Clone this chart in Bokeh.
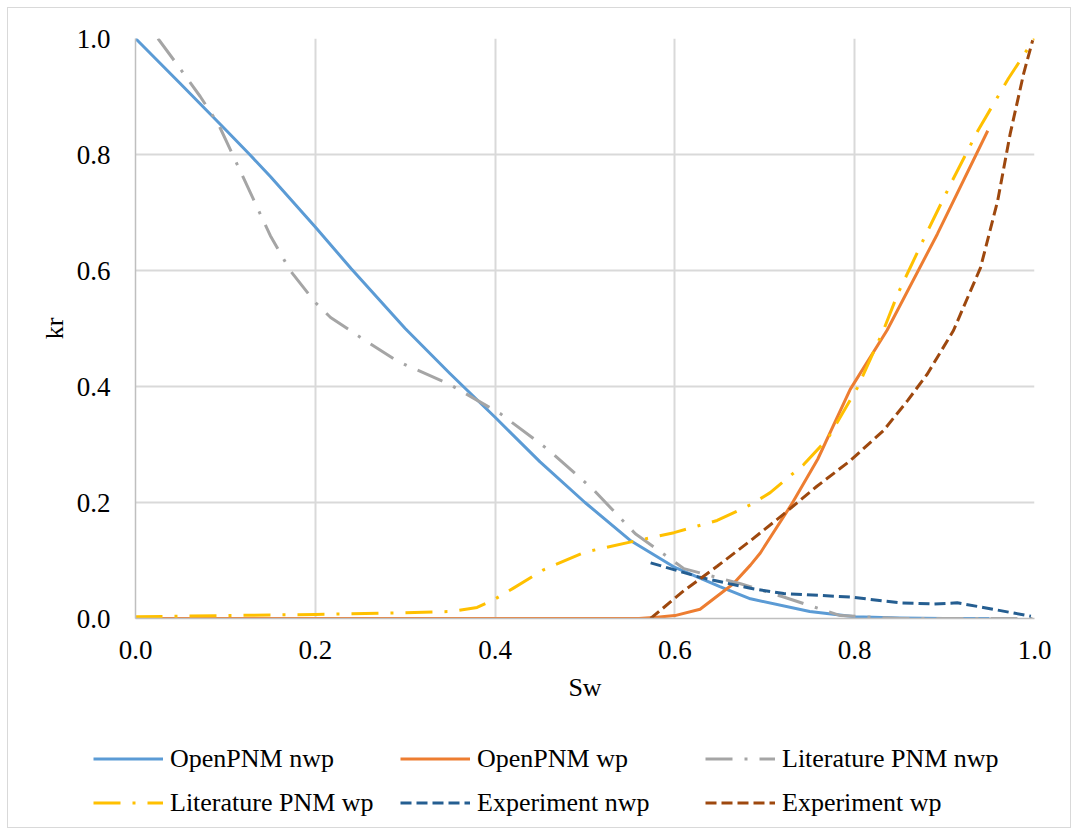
from bokeh.plotting import figure
from bokeh.models import Legend, LegendItem, FixedTicker, NumeralTickFormatter, Range1d
from bokeh.layouts import column
from bokeh.embed import file_html
from bokeh.resources import INLINE

# ---- data ----
openpnm_nwp_sw = [0, 0.05, 0.1, 0.127, 0.15, 0.2, 0.24, 0.3, 0.35, 0.4, 0.45, 0.5, 0.55, 0.6, 0.65, 0.684, 0.75, 0.8, 0.85, 0.9, 0.95]
openpnm_nwp_kr = [1.0, 0.922, 0.843, 0.8, 0.762, 0.675, 0.603, 0.5, 0.422, 0.347, 0.27, 0.2, 0.135, 0.088, 0.055, 0.034, 0.012, 0.003, 0.001, 0.0, 0.0]

openpnm_wp_sw = [0, 0.1, 0.2, 0.3, 0.4, 0.5, 0.56, 0.58, 0.6, 0.628, 0.665, 0.684, 0.695, 0.729, 0.759, 0.795, 0.836, 0.892, 0.948]
openpnm_wp_kr = [0, 0, 0, 0, 0, 0, 0.0, 0.002, 0.005, 0.016, 0.06, 0.092, 0.113, 0.195, 0.275, 0.395, 0.497, 0.663, 0.841]

lit_nwp_sw = [0.025, 0.044, 0.072, 0.092, 0.12, 0.15, 0.172, 0.2, 0.217, 0.25, 0.287, 0.302, 0.348, 0.406, 0.46, 0.51, 0.556, 0.61, 0.673, 0.721, 0.784, 0.85, 0.9, 0.95, 1.0]
lit_nwp_kr = [1.0, 0.96, 0.9, 0.853, 0.76, 0.66, 0.6, 0.545, 0.519, 0.485, 0.448, 0.436, 0.405, 0.353, 0.29, 0.221, 0.146, 0.086, 0.06, 0.037, 0.005, 0.0, 0.0, 0.0, 0.0]

lit_wp_sw = [0.0, 0.1, 0.2, 0.3, 0.35, 0.38, 0.397, 0.42, 0.454, 0.499, 0.554, 0.599, 0.647, 0.684, 0.706, 0.743, 0.77, 0.803, 0.832, 0.848, 0.877, 0.907, 0.937, 0.971, 1.0]
lit_wp_kr = [0.003, 0.005, 0.007, 0.01, 0.012, 0.019, 0.031, 0.052, 0.084, 0.114, 0.133, 0.148, 0.169, 0.196, 0.217, 0.265, 0.31, 0.398, 0.497, 0.56, 0.655, 0.75, 0.841, 0.931, 1.0]

exp_nwp_sw = [0.573, 0.628, 0.684, 0.721, 0.795, 0.851, 0.888, 0.914, 0.943, 0.996]
exp_nwp_kr = [0.096, 0.071, 0.052, 0.043, 0.037, 0.027, 0.025, 0.027, 0.019, 0.004]

exp_wp_sw = [0.573, 0.61, 0.647, 0.684, 0.721, 0.758, 0.795, 0.832, 0.859, 0.881, 0.91, 0.94, 0.959, 0.973, 0.988, 0.998]
exp_wp_kr = [0.0, 0.048, 0.09, 0.134, 0.18, 0.228, 0.272, 0.324, 0.376, 0.422, 0.497, 0.605, 0.72, 0.836, 0.94, 0.997]

series_names = ["OpenPNM nwp", "OpenPNM wp", "Literature PNM nwp", "Literature PNM wp", "Experiment nwp", "Experiment wp"]
series_colors = ["#5B9BD5", "#ED7D31", "#A5A5A5", "#FFC000", "#255E91", "#9E480E"]
series_dashes = ["solid", "solid", "27 12 3 12", "27 12 3 12", "11 5", "11 5"]
ticks = [0.0, 0.2, 0.4, 0.6, 0.8, 1.0]

FONT = "Liberation Serif, Times New Roman, serif"
FS = "26px"
TFS = "27px"

p = figure(frame_width=899, frame_height=580, output_backend="svg", toolbar_location=None,
           x_range=Range1d(0, 1), y_range=Range1d(0, 1),
           min_border_left=127, min_border_top=30, min_border_right=36, min_border_bottom=100)
p.outline_line_color = None
p.background_fill_color = "white"
p.border_fill_color = "white"

for ax in (p.xaxis[0], p.yaxis[0]):
    ax.ticker = FixedTicker(ticks=ticks)
    ax.formatter = NumeralTickFormatter(format="0.0")
    ax.major_tick_line_color = None
    ax.minor_tick_line_color = None
    ax.axis_line_color = "#bfbfbf"
    ax.axis_line_width = 1.5
    ax.major_label_text_font = FONT
    ax.major_label_text_font_size = TFS
    ax.major_label_text_color = "black"
    ax.axis_label_text_font = FONT
    ax.axis_label_text_font_size = FS
    ax.axis_label_text_font_style = "normal"
    ax.axis_label_text_color = "black"

p.xaxis.axis_label = "Sw"
p.yaxis.axis_label = "kr"
p.xaxis.major_label_standoff = 16
p.yaxis.major_label_standoff = 19
p.xaxis.axis_label_standoff = 11
p.yaxis.axis_label_standoff = 5

for g in (p.xgrid[0], p.ygrid[0]):
    g.ticker = FixedTicker(ticks=ticks)
    g.grid_line_color = "#d9d9d9"
    g.grid_line_width = 2

xs = [openpnm_nwp_sw, openpnm_wp_sw, lit_nwp_sw, lit_wp_sw, exp_nwp_sw, exp_wp_sw]
ys = [openpnm_nwp_kr, openpnm_wp_kr, lit_nwp_kr, lit_wp_kr, exp_nwp_kr, exp_wp_kr]
for x, y, c, d in zip(xs, ys, series_colors, series_dashes):
    p.line(x, y, line_color=c, line_dash=d, line_width=3, line_join="round")

# legend panel: a separate figure beneath (its ranges keep the lines out of view)
lp = figure(frame_width=1062, frame_height=109, output_backend="svg", toolbar_location=None,
            x_range=Range1d(10, 11), y_range=Range1d(10, 11),
            x_axis_location=None, y_axis_location=None,
            min_border_left=0, min_border_right=0, min_border_top=0, min_border_bottom=0)
lp.grid.visible = False
lp.outline_line_color = None
lp.background_fill_color = "white"
lp.border_fill_color = "white"
items = []
for x, y, name, c, d in zip(xs, ys, series_names, series_colors, series_dashes):
    r = lp.line(x, y, line_color=c, line_dash=d, line_width=3)
    items.append(LegendItem(label=name, renderers=[r]))

col_x = [85, 392, 697]
for col in range(3):
    legend = Legend(items=[items[col], items[col + 3]], location=(col_x[col], 7),
                    glyph_width=70, glyph_height=35, label_height=35,
                    label_standoff=7, padding=0, margin=0, spacing=9,
                    border_line_color=None, background_fill_alpha=0,
                    label_text_font=FONT, label_text_font_size=FS, label_text_color="black")
    lp.add_layout(legend, "center")

layout = column(p, lp, spacing=0,
                styles={"margin": "8px", "outline": "1px solid #d9d9d9", "outline-offset": "0px"})

open("out.html", "w").write(file_html(layout, INLINE))
